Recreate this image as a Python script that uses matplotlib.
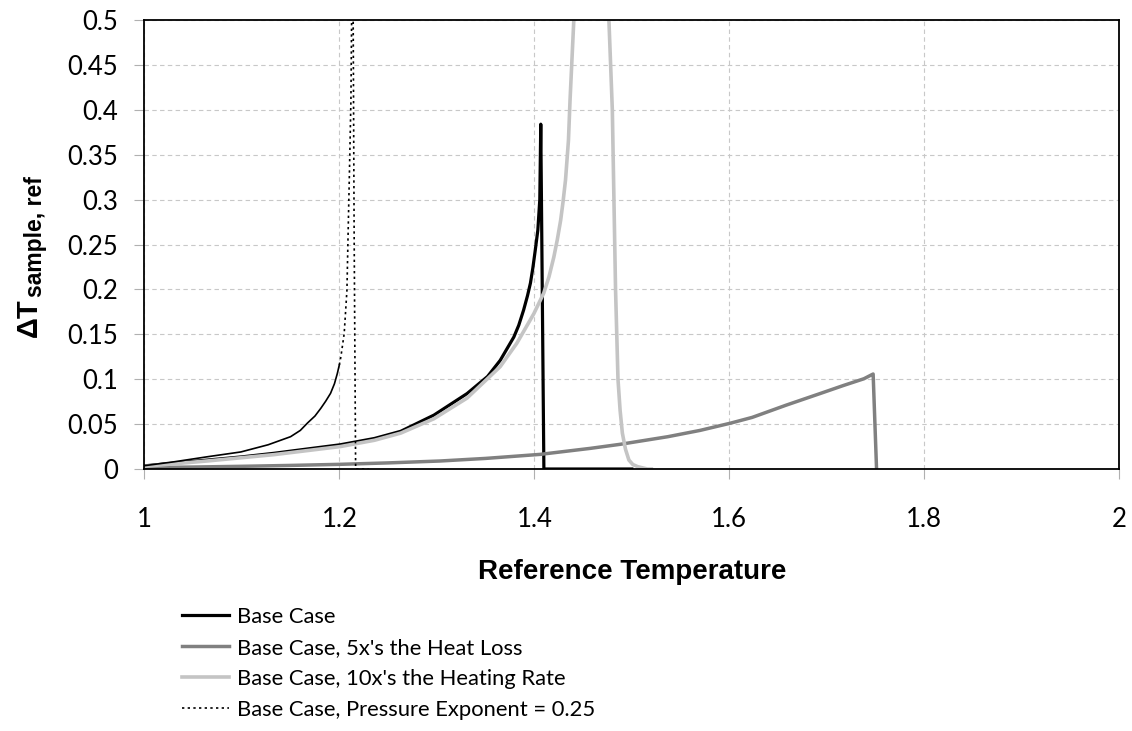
import matplotlib
matplotlib.use("Agg")
import matplotlib.pyplot as plt

# Base Case
base_x = [1.000, 1.030, 1.065, 1.100, 1.133, 1.165, 1.201, 1.236, 1.263, 1.297,
          1.331, 1.352, 1.365, 1.379, 1.384, 1.389, 1.393, 1.396, 1.3985, 1.401,
          1.4036, 1.4056, 1.4066, 1.4098, 1.500]
base_y = [0.0035, 0.0065, 0.010, 0.0135, 0.0175, 0.022, 0.027, 0.034, 0.042, 0.060,
          0.084, 0.103, 0.121, 0.147, 0.160, 0.177, 0.193, 0.207, 0.224, 0.244,
          0.266, 0.300, 0.384, 0.0, 0.0]

# Base Case, 5x's the Heat Loss
loss_x = [1.000, 1.050, 1.100, 1.150, 1.200, 1.250, 1.303, 1.350, 1.406, 1.4575,
          1.488, 1.537, 1.570, 1.601, 1.6235, 1.658, 1.693, 1.717, 1.738, 1.7475,
          1.751]
loss_y = [0.0015, 0.0022, 0.003, 0.004, 0.0052, 0.0068, 0.0089, 0.0118, 0.0163, 0.023,
          0.0275, 0.036, 0.043, 0.051, 0.0575, 0.071, 0.084, 0.093, 0.1005, 0.1058,
          0.0]

# Base Case, 10x's the Heating Rate
heat_x = [1.000, 1.065, 1.133, 1.201, 1.236, 1.263, 1.297, 1.331, 1.365, 1.382,
          1.390, 1.3995, 1.4097, 1.415, 1.420, 1.4235, 1.427, 1.4295, 1.432, 1.435,
          1.4366, 1.4405, 1.443, 1.474, 1.4765, 1.480, 1.4833, 1.4858, 1.488, 1.4903,
          1.4935, 1.497, 1.501, 1.506, 1.516, 1.520]
heat_y = [0.003, 0.009, 0.016, 0.025, 0.032, 0.040, 0.056, 0.079, 0.114, 0.140,
          0.155, 0.173, 0.196, 0.214, 0.236, 0.255, 0.277, 0.298, 0.322, 0.366,
          0.410, 0.500, 0.600, 0.600, 0.500, 0.400, 0.200, 0.100, 0.065, 0.040,
          0.022, 0.010, 0.005, 0.0026, 0.0, 0.0]

# Base Case, Pressure Exponent = 0.25
pe_x = [1.000, 1.031, 1.065, 1.099, 1.127, 1.150, 1.160, 1.1676, 1.175, 1.181,
        1.186, 1.191, 1.195, 1.198, 1.200, 1.2016, 1.205, 1.2078, 1.209, 1.2105,
        1.2119, 1.2126, 1.2134, 1.2142, 1.2152, 1.2167, 1.217, 1.230]
pe_y = [0.0037, 0.0081, 0.0137, 0.019, 0.027, 0.036, 0.043, 0.0515, 0.059, 0.0676,
        0.0755, 0.0843, 0.095, 0.1066, 0.116, 0.125, 0.151, 0.199, 0.262, 0.337,
        0.411, 0.500, 0.600, 0.500, 0.260, 0.003, 0.0, 0.0]
PE_SOLID_END = 14  # the dense low part prints as a continuous line

labels = ["Base Case", "Base Case, 5x's the Heat Loss",
          "Base Case, 10x's the Heating Rate", "Base Case, Pressure Exponent = 0.25"]
x_ticks = [1, 1.2, 1.4, 1.6, 1.8, 2]
x_ticklabels = ["1", "1.2", "1.4", "1.6", "1.8", "2"]
y_ticks = [0, 0.05, 0.1, 0.15, 0.2, 0.25, 0.3, 0.35, 0.4, 0.45, 0.5]
y_ticklabels = ["0", "0.05", "0.1", "0.15", "0.2", "0.25", "0.3", "0.35", "0.4", "0.45", "0.5"]

fig = plt.figure(figsize=(11.32, 7.31), dpi=100)
ax = fig.add_axes([0.1275, 0.3584, 0.8613, 0.6142])

dots = (0, (1.4, 2.0))
ax.plot(base_x, base_y, color="black", lw=2.3, label=labels[0], zorder=3)
ax.plot(loss_x, loss_y, color="#808080", lw=2.5, label=labels[1], zorder=4)
ax.plot(heat_x, heat_y, color="#c4c4c4", lw=2.6, label=labels[2], zorder=5)
ax.plot(pe_x[:PE_SOLID_END + 1], pe_y[:PE_SOLID_END + 1], color="black", lw=1.2, zorder=6)
ax.plot(pe_x[PE_SOLID_END:], pe_y[PE_SOLID_END:], color="black", lw=1.2,
        linestyle=dots, label=labels[3], zorder=6)

ax.set_xlim(1, 2)
ax.set_ylim(0, 0.5)
ax.set_xticks(x_ticks)
ax.set_xticklabels(x_ticklabels, family="Lato", fontsize=18.5)
ax.set_yticks(y_ticks)
ax.set_yticklabels(y_ticklabels, family="Lato", fontsize=18.5)
ax.tick_params(axis="x", direction="out", length=7, color="#b0b0b0", pad=20)
ax.tick_params(axis="y", direction="out", length=7, color="#b0b0b0", pad=12)
ax.grid(True, color="#c8c8c8", linestyle=(0, (4, 3)), lw=0.8)
ax.set_axisbelow(True)
for sp in ax.spines.values():
    sp.set_linewidth(1.3)
    sp.set_zorder(10)

ax.set_xlabel("Reference Temperature", family="Liberation Sans", fontweight="bold",
              fontsize=20, labelpad=20)

# y label: big "ΔT" with a larger-than-mathtext subscript
ylab = fig.text(37 / 1132, 1 - 337 / 731, "ΔT", family="Liberation Sans",
                fontweight="bold", fontsize=21, rotation=90, rotation_mode="anchor",
                ha="left", va="baseline")
fig.canvas.draw()
bb = ylab.get_window_extent()
fig.text(42 / 1132, (bb.y1 + 1) / fig.bbox.height, "sample, ref", family="Liberation Sans",
         fontweight="bold", fontsize=16.5, rotation=90, rotation_mode="anchor",
         ha="left", va="baseline")

handles, _ = ax.get_legend_handles_labels()
fig.legend(handles, labels, loc="upper left", bbox_to_anchor=(0.161, 0.1694),
           frameon=False, prop={"family": "Lato", "size": 15.8}, handlelength=2.15,
           handletextpad=0.36, labelspacing=0.5, borderpad=0, borderaxespad=0)

fig.savefig("out.png", dpi=100)
